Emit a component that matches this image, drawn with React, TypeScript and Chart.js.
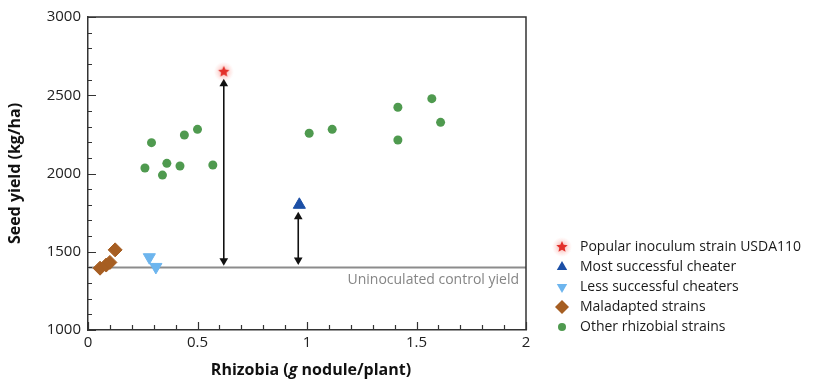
import React, { useEffect, useRef } from "react";
import { Chart, registerables } from "chart.js";
import { drawPoint } from "chart.js/helpers";

Chart.register(...registerables);

// ---------- data ----------
const xTickLabels = ["0", "0.5", "1", "1.5", "2"];
const yTickLabels = ["1000", "1500", "2000", "2500", "3000"];

const popularX = [0.62];
const popularY = [2650];
const mostX = [0.965];
const mostY = [1800];
const lessX = [0.28, 0.31];
const lessY = [1465, 1403];
const malX = [0.055, 0.083, 0.1, 0.124];
const malY = [1395, 1415, 1432, 1512];
const otherX = [0.26, 0.29, 0.34, 0.36, 0.42, 0.44, 0.5, 0.57, 1.01, 1.115, 1.415, 1.415, 1.57, 1.61];
const otherY = [2035, 2197, 1990, 2065, 2048, 2246, 2282, 2054, 2257, 2282, 2423, 2214, 2478, 2327];
const controlYield = 1400;
const controlLabel = "Uninoculated control yield";
const arrow1X = [0.62, 0.62];
const arrow1Y = [1442, 2573];
const arrow2X = [0.96, 0.96];
const arrow2Y = [1447, 1724];

const legendLabels = [
  "Popular inoculum strain USDA110",
  "Most successful cheater",
  "Less successful cheaters",
  "Maladapted strains",
  "Other rhizobial strains",
];

const FONT = "'Open Sans', 'Noto Sans', sans-serif";

const C_RED = "#e3302a";
const C_DARKBLUE = "#1c4fa6";
const C_LIGHTBLUE = "#6db5ee";
const C_BROWN = "#a65e22";
const C_GREEN = "#4f9a4f";
const C_AXIS = "#333333";

function pts(xs: number[], ys: number[]) {
  return xs.map((x, i) => ({ x, y: ys[i] }));
}

function makeStar(): HTMLCanvasElement {
  const c = document.createElement("canvas");
  c.width = 20;
  c.height = 20;
  const g = c.getContext("2d")!;
  const grad = g.createRadialGradient(10, 10, 2, 10, 10, 10);
  grad.addColorStop(0, "rgba(240,90,80,0.4)");
  grad.addColorStop(1, "rgba(255,150,140,0)");
  g.fillStyle = grad;
  g.fillRect(0, 0, 20, 20);
  g.beginPath();
  const R = 6;
  const r = 2.8;
  for (let i = 0; i < 10; i++) {
    const a = -Math.PI / 2 + (i * Math.PI) / 5;
    const rr = i % 2 === 0 ? R : r;
    const px = 10 + Math.cos(a) * rr;
    const py = 10 + Math.sin(a) * rr;
    if (i === 0) g.moveTo(px, py);
    else g.lineTo(px, py);
  }
  g.closePath();
  g.fillStyle = C_RED;
  g.fill();
  return c;
}

export default function App() {
  const ref = useRef<HTMLCanvasElement | null>(null);

  useEffect(() => {
    const canvas = ref.current;
    if (!canvas) return;
    const star = makeStar();

    const legendStyles: any[] = [
      { pointStyle: star, radius: 6, color: C_RED },
      { pointStyle: "triangle", radius: 6, color: C_DARKBLUE, rotation: 0 },
      { pointStyle: "triangle", radius: 6, color: C_LIGHTBLUE, rotation: 180 },
      { pointStyle: "rectRot", radius: 7, color: C_BROWN, rotation: 0 },
      { pointStyle: "circle", radius: 4, color: C_GREEN, rotation: 0 },
    ];

    const decorPlugin = {
      id: "decor",
      afterDraw(chart: any) {
        const { ctx, chartArea } = chart;
        const xs = chart.scales.x;
        const ys = chart.scales.y;
        ctx.save();
        // top & right border
        ctx.strokeStyle = C_AXIS;
        ctx.lineWidth = 1.5;
        ctx.beginPath();
        ctx.moveTo(chartArea.left, chartArea.top);
        ctx.lineTo(chartArea.right, chartArea.top);
        ctx.lineTo(chartArea.right, chartArea.bottom);
        ctx.stroke();
        // inward ticks
        ctx.lineWidth = 1.2;
        ctx.beginPath();
        for (let v = 1000; v <= 3000; v += 100) {
          const py = Math.round(ys.getPixelForValue(v)) + 0.5;
          const len = v % 500 === 0 ? 8 : 4;
          ctx.moveTo(chartArea.left, py);
          ctx.lineTo(chartArea.left + len, py);
        }
        for (let i = 0; i <= 20; i++) {
          const v = i / 10;
          const px = Math.round(xs.getPixelForValue(v)) + 0.5;
          const len = i % 5 === 0 ? 8 : 5;
          ctx.moveTo(px, chartArea.bottom);
          ctx.lineTo(px, chartArea.bottom - len);
        }
        ctx.stroke();
        // control label
        ctx.fillStyle = "#858585";
        ctx.font = `14px ${FONT}`;
        ctx.textAlign = "right";
        ctx.textBaseline = "middle";
        ctx.fillText(controlLabel, chartArea.right - 7, ys.getPixelForValue(controlYield) + 13);
        // x title with italic g
        const segs = [
          { t: "Rhizobia (", f: `bold 16px ${FONT}` },
          { t: "g", f: `italic bold 16px ${FONT}` },
          { t: " nodule/plant)", f: `bold 16px ${FONT}` },
        ];
        let total = 0;
        segs.forEach((s) => {
          ctx.font = s.f;
          total += ctx.measureText(s.t).width;
        });
        let cx = (chartArea.left + chartArea.right) / 2 - total / 2 + 4;
        ctx.fillStyle = "#111111";
        ctx.textAlign = "left";
        segs.forEach((s) => {
          ctx.font = s.f;
          ctx.fillText(s.t, cx, 370);
          cx += ctx.measureText(s.t).width;
        });
        // legend
        const lx = 562;
        const tx = 580;
        const ly0 = 247;
        const step = 20;
        ctx.font = `14px ${FONT}`;
        legendLabels.forEach((lab, i) => {
          const y = ly0 + i * step;
          const st = legendStyles[i];
          ctx.fillStyle = st.color;
          ctx.strokeStyle = st.color;
          drawPoint(ctx, { pointStyle: st.pointStyle, radius: st.radius, rotation: st.rotation || 0, borderWidth: 0 } as any, lx, y);
          ctx.fillStyle = "#1a1a1a";
          ctx.textAlign = "left";
          ctx.textBaseline = "middle";
          ctx.fillText(lab, tx, y);
        });
        ctx.restore();
      },
    };

    const chart = new Chart(canvas, {
      type: "scatter",
      data: {
        datasets: [
          {
            label: legendLabels[0],
            data: pts(popularX, popularY),
            pointStyle: star as any,
            pointRadius: 6,
            backgroundColor: C_RED,
            borderColor: C_RED,
            order: 1,
          },
          {
            label: legendLabels[1],
            data: pts(mostX, mostY),
            pointStyle: "triangle",
            pointRadius: 7,
            backgroundColor: C_DARKBLUE,
            borderColor: C_DARKBLUE,
            order: 1,
          },
          {
            label: legendLabels[2],
            data: pts(lessX, lessY),
            pointStyle: "triangle",
            rotation: 180,
            pointRadius: 7,
            backgroundColor: C_LIGHTBLUE,
            borderColor: C_LIGHTBLUE,
            order: 1,
          },
          {
            label: legendLabels[3],
            data: pts(malX, malY),
            pointStyle: "rectRot",
            pointRadius: 7,
            backgroundColor: C_BROWN,
            borderColor: C_BROWN,
            order: 1,
          },
          {
            label: legendLabels[4],
            data: pts(otherX, otherY),
            pointStyle: "circle",
            pointRadius: 4.5,
            backgroundColor: C_GREEN,
            borderColor: C_GREEN,
            borderWidth: 0,
            order: 1,
          },
          {
            type: "line",
            label: "arrow1",
            data: pts(arrow1X, arrow1Y),
            borderColor: "#111111",
            borderWidth: 1.6,
            backgroundColor: "#111111",
            pointStyle: "triangle",
            pointRadius: 5,
            pointRotation: [180, 0] as any,
            pointBorderWidth: 0,
            order: 2,
          } as any,
          {
            type: "line",
            label: "arrow2",
            data: pts(arrow2X, arrow2Y),
            borderColor: "#111111",
            borderWidth: 1.6,
            backgroundColor: "#111111",
            pointStyle: "triangle",
            pointRadius: 5,
            pointRotation: [180, 0] as any,
            pointBorderWidth: 0,
            order: 2,
          } as any,
          {
            type: "line",
            label: "control",
            data: [
              { x: 0, y: controlYield },
              { x: 2, y: controlYield },
            ],
            borderColor: "#8c8c8c",
            borderWidth: 2,
            pointRadius: 0,
            order: 3,
          } as any,
        ],
      },
      options: {
        animation: false,
        responsive: true,
        maintainAspectRatio: false,
        layout: { padding: { top: 17, right: 288, left: 0, bottom: 0 } },
        plugins: {
          legend: { display: false },
          tooltip: { enabled: false },
        },
        scales: {
          x: {
            type: "linear",
            min: 0,
            max: 2,
            afterFit: (s: any) => {
              s.height = 59;
            },
            grid: { display: false, drawTicks: false, tickLength: 0 },
            border: { display: true, color: C_AXIS, width: 1.5 },
            ticks: {
              stepSize: 0.5,
              padding: 4,
              color: "#222222",
              font: { family: FONT, size: 15 },
              callback: (v: any) => xTickLabels[Math.round(Number(v) / 0.5)] ?? "",
            },
          },
          y: {
            type: "linear",
            min: 1000,
            max: 3000,
            afterFit: (s: any) => {
              s.width = 88;
            },
            grid: { display: false, drawTicks: false, tickLength: 0 },
            border: { display: true, color: C_AXIS, width: 1.5 },
            title: {
              display: true,
              text: "Seed yield (kg/ha)",
              color: "#111111",
              font: { family: FONT, size: 16, weight: "bold" },
              padding: { top: 6, bottom: 0 },
            },
            ticks: {
              stepSize: 500,
              padding: 7,
              color: "#222222",
              font: { family: FONT, size: 15 },
              callback: (v: any) => yTickLabels[Math.round((Number(v) - 1000) / 500)] ?? "",
            },
          },
        },
      } as any,
      plugins: [decorPlugin],
    });

    return () => chart.destroy();
  }, []);

  return (
    <div style={{ position: "fixed", left: 0, top: 0, width: 814, height: 389, background: "#fff" }}>
      <canvas ref={ref} />
    </div>
  );
}
